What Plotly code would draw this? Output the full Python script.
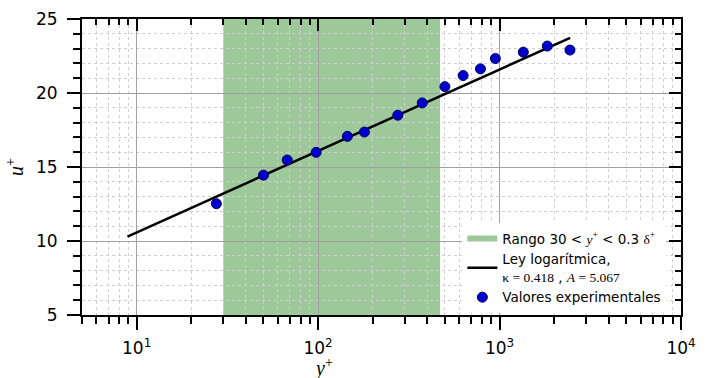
import plotly.graph_objects as go

# Data
y_plus = [27.5, 50, 67.6, 97.6, 145, 180, 275, 375, 500, 630, 785, 948, 1352, 1833, 2444]
u_plus = [12.52, 14.45, 15.47, 15.99, 17.07, 17.36, 18.50, 19.33, 20.43, 21.18, 21.63, 22.33, 22.76, 23.17, 22.90]

law_x = [8.9, 2450]
law_y = [10.30, 23.73]

band_x = [30, 470]
band_y = [5, 25]

x_tick_vals = [10, 100, 1000, 10000]
x_tick_text = ["10<sup>1</sup>", "10<sup>2</sup>", "10<sup>3</sup>", "10<sup>4</sup>"]
x_minor_vals = [m * 10 ** e for e in range(0, 4) for m in range(2, 10)]
y_tick_vals = [5, 10, 15, 20, 25]

x_title = "<i>y</i><sup>+</sup>"
y_title = "<i>u</i><sup>+</sup>"

SERIF = "Liberation Serif"
SANS = "DejaVu Sans"

green = "#9dc89a"
minor_grid = dict(showgrid=True, gridcolor="#cfcfcf", griddash="3px,3px", gridwidth=1)

fig = go.Figure()

fig.add_shape(type="rect", xref="x", yref="y",
              x0=band_x[0], x1=band_x[1], y0=band_y[0], y1=band_y[1],
              fillcolor=green, line=dict(width=0), layer="below")

fig.add_trace(go.Scatter(
    x=[band_x[0], band_x[1], band_x[1], band_x[0], band_x[0]],
    y=[band_y[0], band_y[0], band_y[0], band_y[0], band_y[0]],
    mode="none", fill="toself", fillcolor=green,
    name=("Rango 30 &lt; <span style=\"font-family:'Liberation Serif'\"><i>y</i><sup>+</sup></span>"
          " &lt; 0.3 <span style=\"font-family:'Liberation Serif'\">δ<sup>+</sup></span>"),
    hoverinfo="skip"))

fig.add_trace(go.Scatter(
    x=law_x, y=law_y, mode="lines",
    line=dict(color="black", width=2.5),
    name=("Ley logarítmica,<br><span style=\"font-family:'Liberation Serif'\">κ = 0.418</span> , "
          "<span style=\"font-family:'Liberation Serif'\"><i>A</i> = 5.067</span>")))

fig.add_trace(go.Scatter(
    x=y_plus, y=u_plus, mode="markers",
    marker=dict(size=10, color="#0000cc", line=dict(color="#00005a", width=1)),
    name="Valores experimentales"))

fig.add_trace(go.Scatter(x=[None], y=[None], xaxis="x2", yaxis="y2",
                         showlegend=False, hoverinfo="skip"))

xr = [0.69897, 4]
yr = [5, 25]

fig.add_annotation(text=x_title, xref="x", x=2.03, yref="paper", y=0,
                   yanchor="top", xanchor="center", yshift=-38, showarrow=False,
                   font=dict(family=SERIF, size=20))

fig.update_layout(
    width=708, height=378,
    margin=dict(l=82, r=27, t=19, b=63, autoexpand=False),
    paper_bgcolor="white", plot_bgcolor="rgba(0,0,0,0)",
    font=dict(family=SANS, size=17, color="black"),
    showlegend=True,
    legend=dict(x=0.635, xanchor="left", y=0.31, yanchor="top",
                bgcolor="white", borderwidth=0,
                font=dict(family=SANS, size=13.5),
                tracegroupgap=0, itemwidth=30),
    xaxis=dict(type="log", range=xr, showline=True, linecolor="black", linewidth=2,
               ticks="outside", ticklen=13, tickwidth=2, tickcolor="black",
               tickmode="array", tickvals=x_tick_vals, ticktext=x_tick_text,
               showgrid=True, gridcolor="#a0a0a0", gridwidth=1, automargin=False,
               minor=dict(tickmode="array", tickvals=x_minor_vals, ticks="outside",
                          ticklen=7, tickwidth=2, tickcolor="black", **minor_grid),
               zeroline=False, ticklabelstandoff=4),
    yaxis=dict(range=yr, showline=True, linecolor="black", linewidth=2,
               ticks="outside", ticklen=13, tickwidth=2, tickcolor="black",
               tickmode="array", tickvals=y_tick_vals, automargin=False,
               showgrid=True, gridcolor="#a0a0a0", gridwidth=1,
               minor=dict(tickmode="linear", tick0=5, dtick=1, ticks="outside", ticklen=7,
                          tickwidth=2, tickcolor="black", **minor_grid),
               title=dict(text=y_title, font=dict(family=SERIF, size=20), standoff=7),
               zeroline=False, ticklabelstandoff=6),
    xaxis2=dict(type="log", range=xr, overlaying="x", side="top", anchor="y",
                showline=True, linecolor="black", linewidth=2, automargin=False,
                ticks="inside", ticklen=12, tickwidth=2, tickcolor="black",
                tickmode="array", tickvals=x_tick_vals, showticklabels=False,
                showgrid=False, zeroline=False,
                minor=dict(tickmode="array", tickvals=x_minor_vals, ticks="inside",
                           ticklen=6, tickwidth=2, tickcolor="black", showgrid=False)),
    yaxis2=dict(range=yr, overlaying="y", side="right", anchor="x",
                showline=True, linecolor="black", linewidth=2, automargin=False,
                ticks="inside", ticklen=12, tickwidth=2, tickcolor="black",
                tickmode="array", tickvals=y_tick_vals, showticklabels=False,
                showgrid=False, zeroline=False,
                minor=dict(tickmode="linear", tick0=5, dtick=1, ticks="inside", ticklen=6,
                           tickwidth=2, tickcolor="black", showgrid=False)),
)

fig.write_html("out.html", config={"displayModeBar": False},
               post_script="document.body.style.margin='0px';")
